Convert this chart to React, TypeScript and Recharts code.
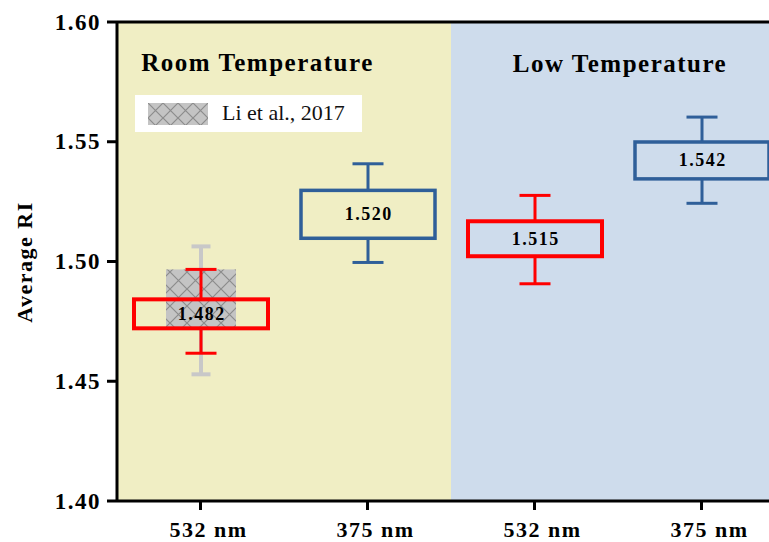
import React from "react";
import {
  Bar,
  ComposedChart,
  Legend,
  ReferenceArea,
  ReferenceLine,
  XAxis,
  YAxis,
} from "recharts";

const categories = ["rt532", "rt375", "lt532", "lt375"];
const tickLabels = ["532 nm", "375 nm", "532 nm", "375 nm"];
const whiskerLow = [1.4617, 1.4996, 1.4907, 1.5243];
const boxLow = [1.4721, 1.5097, 1.5022, 1.5345];
const boxHigh = [1.4842, 1.5297, 1.5168, 1.5499];
const whiskerHigh = [1.4967, 1.5408, 1.5276, 1.5603];
const meanLabels = ["1.482", "1.520", "1.515", "1.542"];

// Li et al., 2017 reference (only room temperature, 532 nm)
const liLow = [1.4529, null, null, null];
const liBoxLow = [1.4717, null, null, null];
const liBoxHigh = [1.4967, null, null, null];
const liHigh = [1.5063, null, null, null];

const yTicks = [1.4, 1.45, 1.5, 1.55, 1.6];
const LI_NAME = "Li et al., 2017";

const SERIF = '"Liberation Serif", "Times New Roman", Times, serif';
const RED = "#ff0000";
const BLUE = "#2f5f99";
const BOX_COLORS = [RED, BLUE, RED, BLUE];
const ROOM_BG = "#f0eec4";
const LOW_BG = "#cedcec";

const data = categories.map((name, i) => ({
  name,
  lo: whiskerLow[i],
  q1: boxLow[i],
  q3: boxHigh[i],
  hi: whiskerHigh[i],
  mean: meanLabels[i],
  liLo: liLow[i],
  liQ1: liBoxLow[i],
  liQ3: liBoxHigh[i],
  liHi: liHigh[i],
}));

function Hatch({ id, size = 17 }: { id: string; size?: number }) {
  return (
    <defs>
      <pattern id={id} width={size} height={size} patternUnits="userSpaceOnUse">
        <rect width={size} height={size} fill="#c4c4c4" />
        <path
          d={`M0,0 L${size},${size} M${size},0 L0,${size}`}
          stroke="#8c8c8c"
          strokeWidth={1.2}
          fill="none"
        />
      </pattern>
    </defs>
  );
}

function BoxShape(props: any) {
  const { x, y, width, height, payload } = props;
  if (!payload || height == null || payload.lo == null) return null;
  const { lo, hi, q1, q3, mean } = payload;
  const py = (v: number) => y + ((hi - v) / (hi - lo)) * height;
  const cx = x + width / 2;
  const color = BOX_COLORS[categories.indexOf(payload.name)];
  const cap = 31;
  const boxStroke = color === RED ? 4 : 3.5;
  const yTop = py(q3);
  const yBot = py(q1);
  return (
    <g>
      <line x1={cx} x2={cx} y1={py(hi)} y2={yTop} stroke={color} strokeWidth={3} />
      <line x1={cx} x2={cx} y1={yBot} y2={py(lo)} stroke={color} strokeWidth={3} />
      <line x1={cx - cap / 2} x2={cx + cap / 2} y1={py(hi)} y2={py(hi)} stroke={color} strokeWidth={3} />
      <line x1={cx - cap / 2} x2={cx + cap / 2} y1={py(lo)} y2={py(lo)} stroke={color} strokeWidth={3} />
      <rect
        x={x}
        y={yTop}
        width={width}
        height={yBot - yTop}
        fill="none"
        stroke={color}
        strokeWidth={boxStroke}
      />
      <text
        x={cx + 0.75}
        y={(yTop + yBot) / 2}
        dominantBaseline="central"
        textAnchor="middle"
        fontFamily={SERIF}
        fontWeight="bold"
        fontSize={18}
        letterSpacing={1.5}
        fill="#000"
      >
        {mean}
      </text>
    </g>
  );
}

function LiShape(props: any) {
  const { x, y, width, height, payload } = props;
  if (!payload || height == null || payload.liLo == null) return null;
  const { liLo, liHi, liQ1, liQ3 } = payload;
  const py = (v: number) => y + ((liHi - v) / (liHi - liLo)) * height;
  const cx = x + width / 2;
  const boxW = 70;
  const cap = 19;
  const grey = "#c8c8c8";
  return (
    <g>
      <Hatch id="li-hatch" />
      <line x1={cx} x2={cx} y1={py(liHi)} y2={py(liQ3)} stroke={grey} strokeWidth={4} />
      <line x1={cx} x2={cx} y1={py(liQ1)} y2={py(liLo)} stroke={grey} strokeWidth={4} />
      <line x1={cx - cap / 2} x2={cx + cap / 2} y1={py(liHi)} y2={py(liHi)} stroke={grey} strokeWidth={4} />
      <line x1={cx - cap / 2} x2={cx + cap / 2} y1={py(liLo)} y2={py(liLo)} stroke={grey} strokeWidth={4} />
      <rect
        x={cx - boxW / 2}
        y={py(liQ3)}
        width={boxW}
        height={py(liQ1) - py(liQ3)}
        fill="url(#li-hatch)"
      />
    </g>
  );
}

function XTick({ x, y, index }: any) {
  return (
    <text
      x={x + 8}
      y={y + 25}
      textAnchor="middle"
      fontFamily={SERIF}
      fontWeight="bold"
      fontSize={22}
      letterSpacing={1.5}
      fill="#000"
    >
      {tickLabels[index]}
    </text>
  );
}

function YTick({ x, y, payload }: any) {
  return (
    <text
      x={x - 4}
      y={y}
      dominantBaseline="central"
      textAnchor="end"
      fontFamily={SERIF}
      fontWeight="bold"
      fontSize={23}
      letterSpacing={1.5}
      fill="#000"
    >
      {Number(payload.value).toFixed(2)}
    </text>
  );
}

function YLabel() {
  return (
    <text
      transform="translate(32,262) rotate(-90)"
      textAnchor="middle"
      fontFamily={SERIF}
      fontWeight="bold"
      fontSize={22}
      letterSpacing={1.5}
      fill="#000"
    >
      Average RI
    </text>
  );
}

const titleContent = (text: string, dx: number, baseline: number) =>
  function Title({ viewBox }: any) {
    if (!viewBox) return null;
    return (
      <text
        x={viewBox.x + viewBox.width / 2 + dx}
        y={baseline}
        textAnchor="middle"
        fontFamily={SERIF}
        fontWeight="bold"
        fontSize={25}
        letterSpacing={1.5}
        fill="#000"
      >
        {text}
      </text>
    );
  };

function LiLegend({ payload }: any) {
  const item = (payload || []).find((p: any) => p.value === LI_NAME);
  if (!item) return null;
  return (
    <div
      style={{
        width: 227,
        height: 37,
        background: "#ffffff",
        position: "relative",
      }}
    >
      <svg width={60} height={22} style={{ position: "absolute", left: 13, top: 8 }}>
        <Hatch id="li-legend-hatch" size={15} />
        <rect width={60} height={22} fill="url(#li-legend-hatch)" />
      </svg>
      <span
        style={{
          position: "absolute",
          left: 87,
          top: 4,
          fontFamily: SERIF,
          fontSize: 22,
          lineHeight: "28px",
          color: "#111",
          whiteSpace: "nowrap",
        }}
      >
        {item.value}
      </span>
    </div>
  );
}

export default function App() {
  return (
    <div
      style={{
        position: "absolute",
        left: 0,
        top: 0,
        width: 769,
        height: 542,
        overflow: "hidden",
        background: "#ffffff",
      }}
    >
      <ComposedChart
        width={800}
        height={542}
        data={data}
        margin={{ top: 22, right: 15, bottom: 0, left: 0 }}
        barGap={-134}
      >
        <ReferenceArea
          x2="rt375"
          fill={ROOM_BG}
          fillOpacity={1}
          stroke="none"
          label={{ content: titleContent("Room Temperature", -26.5, 71) }}
        />
        <ReferenceArea
          x1="lt532"
          fill={LOW_BG}
          fillOpacity={1}
          stroke="none"
          label={{ content: titleContent("Low Temperature", 2, 72) }}
        />
        <XAxis
          dataKey="name"
          height={41}
          axisLine={{ stroke: "#000", strokeWidth: 3 }}
          tickLine={{ stroke: "#000", strokeWidth: 3 }}
          tickSize={9}
          tick={<XTick />}
          interval={0}
        />
        <YAxis
          width={117}
          domain={[1.4, 1.6]}
          ticks={yTicks}
          allowDataOverflow
          axisLine={{ stroke: "#000", strokeWidth: 3 }}
          tickLine={{ stroke: "#000", strokeWidth: 3 }}
          tickSize={10}
          tick={<YTick />}
          label={{ content: () => <YLabel /> }}
        />
        <ReferenceLine y={1.6} stroke="#000" strokeWidth={3} />
        <Legend
          layout="vertical"
          align="center"
          verticalAlign="middle"
          wrapperStyle={{ left: 135, top: 95, width: 227, height: 37 }}
          content={<LiLegend />}
        />
        <Bar
          name={LI_NAME}
          dataKey={(d: any) => (d.liLo == null ? null : [d.liLo, d.liHi])}
          barSize={134}
          fill="#c4c4c4"
          shape={<LiShape />}
          isAnimationActive={false}
        />
        <Bar
          name="RI"
          legendType="none"
          dataKey={(d: any) => [d.lo, d.hi]}
          barSize={134}
          fill="none"
          shape={<BoxShape />}
          isAnimationActive={false}
        />
      </ComposedChart>
    </div>
  );
}
